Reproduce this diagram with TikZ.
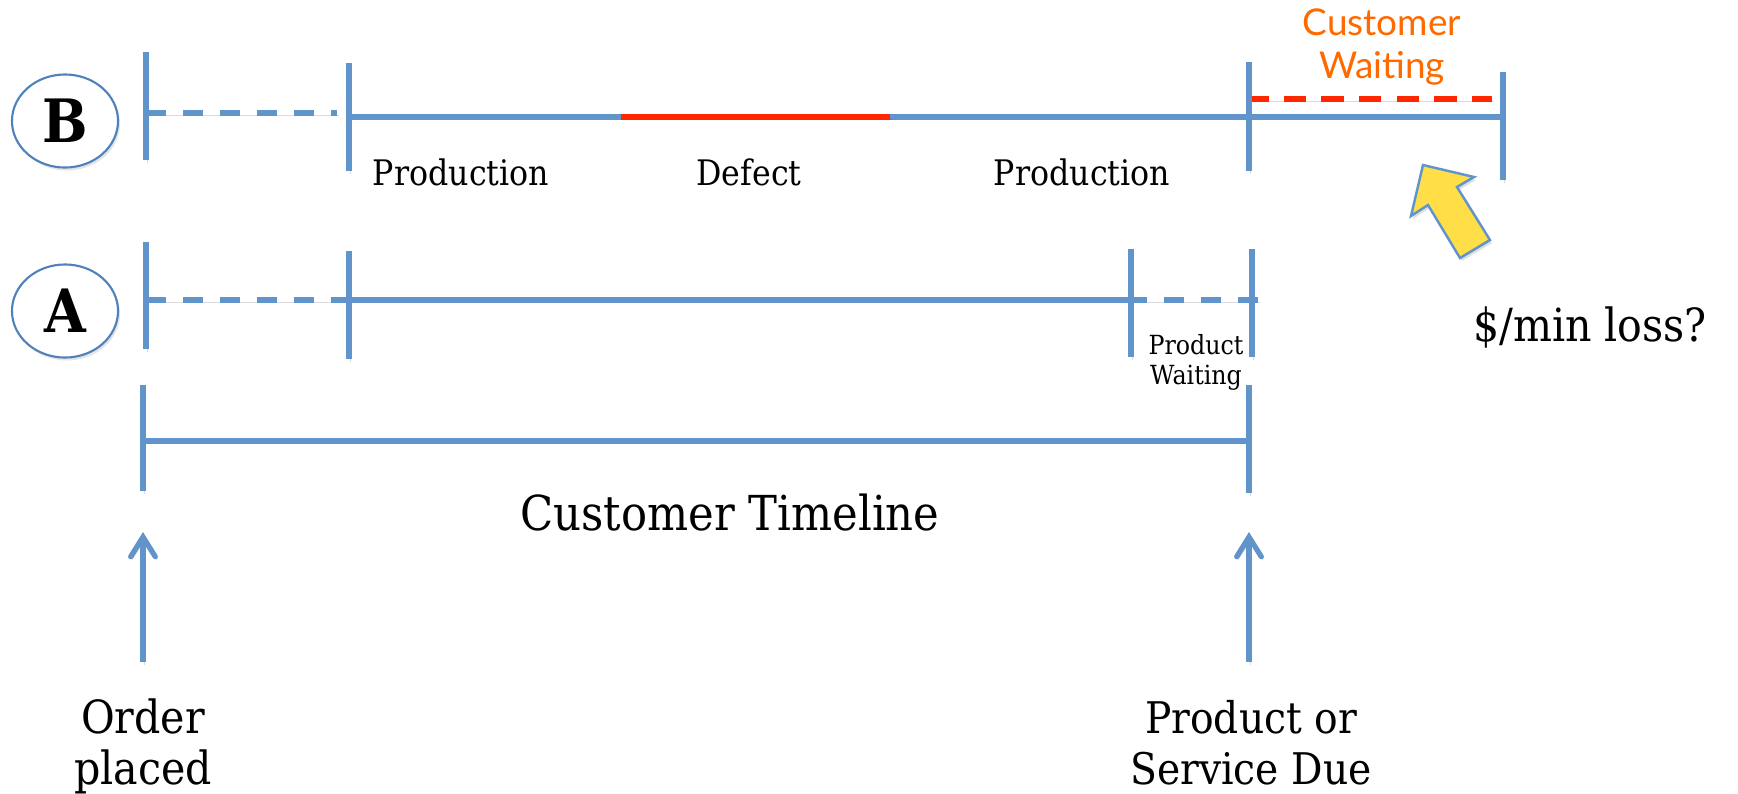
\documentclass[tikz,border=0pt]{standalone}
\usepackage{fontspec}
\setmainfont{DejaVu Serif}[FakeStretch=0.9]
\newfontfamily\calloutfont{Lato}
\usetikzlibrary{arrows.meta,shapes.geometric}

\definecolor{lineblue}{RGB}{98,148,204}
\definecolor{rimblue}{RGB}{79,129,189}
\definecolor{defectred}{RGB}{255,38,0}
\definecolor{waitorange}{RGB}{255,106,0}
\definecolor{hintyellow}{RGB}{255,222,72}

% two centred lines whose baseline is the first line
\newcommand{\stackpair}[2]{\begin{tabular}[t]{@{}c@{}}#1\\#2\end{tabular}}

\begin{document}
\begin{tikzpicture}[x=0.01cm,y=-0.01cm,
  softshade/.style={preaction={draw=black,opacity=0.14,transform canvas={shift={(1.5,2.5)}}}},
  bar/.style={draw=lineblue,line width=1.5pt,softshade},
  gapbar/.style={bar,dash pattern=on 5.7pt off 4.8pt},
  defectbar/.style={draw=defectred,line width=1.5pt,softshade},
  waitbar/.style={draw=defectred,line width=1.6pt,dash pattern=on 6.4pt off 4.3pt,softshade},
  tickmark/.style={draw=lineblue,line width=1.5pt,softshade},
  pointer/.style={draw=lineblue,line width=1.5pt,softshade,
    -{Straight Barb[length=5.6pt,width=7pt,line cap=round]}},
  badge/.style={ellipse,draw=rimblue,line width=0.6pt,fill=white,
    minimum width=1.06cm,minimum height=0.93cm,inner sep=0pt,
    font=\fontsize{17pt}{20pt}\bfseries\selectfont,
    preaction={fill=black,opacity=0.10,transform canvas={shift={(2,3)}}}},
  bigtext/.style={inner sep=0pt,anchor=base,font=\fontsize{13pt}{14.5pt}\selectfont},
  midtext/.style={inner sep=0pt,anchor=base,font=\fontsize{10pt}{12pt}\selectfont},
  smalltext/.style={inner sep=0pt,anchor=base,font=\fontsize{7.5pt}{8.8pt}\selectfont},
  callout/.style={inner sep=0pt,anchor=base,text=waitorange,
    font=\calloutfont\fontsize{10.5pt}{12.3pt}\selectfont},
  hint/.style={draw=lineblue,line width=0.7pt,fill=hintyellow,line join=miter,
    preaction={fill=black,opacity=0.12,transform canvas={shift={(2,3)}}}}
]
\useasboundingbox[fill=white] (0,0) rectangle (1738,793);

% ---------- row labels ----------
\node[badge] (rowB) at (65,121) {B};
\node[badge] (rowA) at (65,311) {A};

% ---------- plan B ----------
\coordinate (b1t) at (146,52);   \coordinate (b1b) at (146,160);
\coordinate (b2t) at (349,63);   \coordinate (b2b) at (349,171);
\coordinate (b3t) at (1249,62);  \coordinate (b3b) at (1249,171);
\coordinate (b4t) at (1503,72);  \coordinate (b4b) at (1503,180);
\coordinate (bq0) at (146,113);  \coordinate (bq1) at (337,113);
\coordinate (bp0) at (349,117);  \coordinate (bd0) at (621,117);
\coordinate (bd1) at (890,117);  \coordinate (bp1) at (1503,117);
\coordinate (bw0) at (1246,99);  \coordinate (bw1) at (1492,99);

\draw[gapbar] (bq0) -- (bq1);
\draw[bar] (bp0) -- (bd0);
\draw[bar] (bd1) -- (bp1);
\draw[defectbar] (bd0) -- (bd1);
\draw[waitbar] (bw0) -- (bw1);
\draw[tickmark] (b1t) -- (b1b);
\draw[tickmark] (b2t) -- (b2b);
\draw[tickmark] (b3t) -- (b3b);
\draw[tickmark] (b4t) -- (b4b);

\node[midtext] (prodB1) at (461,185) {Production};
\node[midtext] (defect) at (749,185) {Defect};
\node[midtext] (prodB2) at (1082,185) {Production};
\node[callout] (custwait) at (1382,35) {\stackpair{Customer}{Waiting}};

% ---------- plan A ----------
\coordinate (a1t) at (146,242);  \coordinate (a1b) at (146,349);
\coordinate (a2t) at (349,251);  \coordinate (a2b) at (349,359);
\coordinate (a3t) at (1131,249); \coordinate (a3b) at (1131,357);
\coordinate (a4t) at (1252,249); \coordinate (a4b) at (1252,357);
\coordinate (aq0) at (146,300);  \coordinate (ap0) at (349,300);
\coordinate (ap1) at (1131,300); \coordinate (aq1) at (1258,300);

\draw[gapbar] (aq0) -- (ap0);
\draw[bar] (ap0) -- (ap1);
\draw[gapbar,dash phase=1.1pt] (ap1) -- (aq1);
\draw[tickmark] (a1t) -- (a1b);
\draw[tickmark] (a2t) -- (a2b);
\draw[tickmark] (a3t) -- (a3b);
\draw[tickmark] (a4t) -- (a4b);

\node[smalltext] (prodwait) at (1196,354) {\stackpair{Product}{Waiting}};

% ---------- customer timeline ----------
\coordinate (c1t) at (143,385);  \coordinate (c1b) at (143,491);
\coordinate (c2t) at (1249,385); \coordinate (c2b) at (1249,493);
\coordinate (c0) at (143,441);   \coordinate (c1) at (1249,441);

\draw[bar] (c0) -- (c1);
\draw[tickmark] (c1t) -- (c1b);
\draw[tickmark] (c2t) -- (c2b);

\node[bigtext,font=\fontsize{13.7pt}{15pt}\selectfont] (timeline) at (730,530) {Customer Timeline};

% ---------- start and due markers ----------
\coordinate (ordtail) at (143,662); \coordinate (ordtip) at (143,532);
\coordinate (duetail) at (1249,662); \coordinate (duetip) at (1249,532);
\draw[pointer] (ordtail) -- (ordtip);
\draw[pointer] (duetail) -- (duetip);

\node[bigtext] (order) at (143,733) {\stackpair{Order}{placed}};
\node[bigtext,font=\fontsize{12.4pt}{14.5pt}\selectfont] (due) at (1251,733) {\stackpair{Product or}{Service Due}};

% ---------- cost of waiting ----------
\draw[hint] (1423,165) -- (1474,177) -- (1457,187) -- (1490,240)
  -- (1460,258) -- (1428,205) -- (1411,216) -- cycle;
\node[bigtext] (loss) at (1590,341) {\$/min loss?};
\end{tikzpicture}
\end{document}
